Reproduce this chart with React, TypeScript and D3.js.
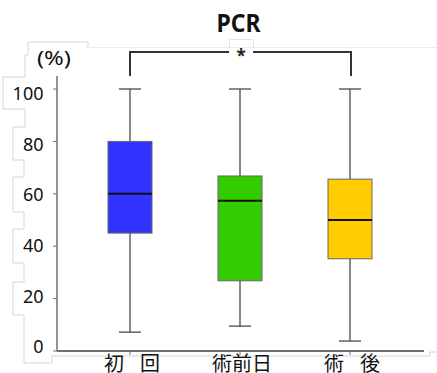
import React from "react";
import * as d3 from "d3";

// Groups and five-number summaries (%)
const categories = ["初 回", "術前日", "術 後"];
const mins = [7.2, 9.5, 3.8];
const q1s = [45, 26.8, 35.2];
const medians = [60, 57.3, 50];
const q3s = [80, 66.8, 65.6];
const maxs = [100, 100, 100];
const colors = ["#3333ff", "#33cc00", "#ffcc00"];
const yTicks = [0, 20, 40, 60, 80, 100];
const title = "PCR";
const unitLabel = "(%)";
const sigMark = "*";

const W = 437;
const H = 373;

export default function App() {
  const y = d3.scaleLinear().domain([0, 100]).range([351, 89]);
  // tick labels sit in their own column with a slightly tighter spacing
  const yLabel = d3.scaleLinear().domain([0, 100]).range([347, 93.3]);
  const x = d3
    .scaleBand<string>()
    .domain(categories)
    .range([75, 405])
    .paddingInner(0.6)
    .paddingOuter(0.3);
  const bw = x.bandwidth();
  const cx = (c: string) => (x(c) ?? 0) + bw / 2;
  const capHalf = 11;

  const axisColor = "#707070";
  const whiskerColor = "#4a4a4a";
  const faint = "#d4d4d4";

  const leftC = cx(categories[0]);
  const rightC = cx(categories[2]);
  const midC = (leftC + rightC) / 2 + 1;
  const bracketY = 52;
  const bracketBottom = 76;

  // outline of the label panel on the left
  const panel: [number, number][] = [
    [88, 48], [88, 42], [28, 42], [28, 55], [25, 55], [25, 77], [3, 77],
    [3, 109], [25, 109], [25, 127], [13, 127], [13, 160], [24, 160],
    [24, 177], [13, 177], [13, 212], [24, 212], [24, 229], [13, 229],
    [13, 263], [24, 263], [24, 282], [13, 282], [13, 315], [24, 315],
    [24, 363], [52, 363], [52, 356], [430, 356], [430, 352], [437, 352],
  ];
  const line = d3.line();

  return (
    <svg
      width={W}
      height={H}
      style={{ position: "absolute", left: 0, top: 0, background: "#fff" }}
      fontFamily="'Noto Sans', 'DejaVu Sans', sans-serif"
    >
      <path d={line(panel) ?? ""} fill="none" stroke={faint} strokeWidth={1} />
      <line x1={88} x2={437} y1={47.5} y2={47.5} stroke="#ececec" strokeWidth={1} />
      <path d="M229.5,48 V39.5 H253.5 V48" fill="none" stroke="#e4e4e4" strokeWidth={1} />

      <text
        x={238.5}
        y={32}
        textAnchor="middle"
        fontSize={25}
        fontWeight="bold"
        fill="#111"
        textLength={44}
        lengthAdjust="spacingAndGlyphs"
      >
        {title}
      </text>

      {/* significance bracket */}
      <path
        d={`M${leftC},${bracketBottom} V${bracketY} H${midC - 12} M${midC + 12},${bracketY} H${rightC + 1} V${bracketBottom}`}
        fill="none"
        stroke="#333"
        strokeWidth={2}
      />
      <text x={midC} y={62} textAnchor="middle" fontSize={17} fontWeight="bold" fill="#222">
        {sigMark}
      </text>

      <text
        x={37}
        y={65}
        fontSize={19}
        fill="#111"
        textLength={34}
        lengthAdjust="spacingAndGlyphs"
      >
        {unitLabel}
      </text>

      {/* y axis */}
      <line x1={57} x2={57} y1={76} y2={y(0)} stroke={axisColor} strokeWidth={1.5} />
      {yTicks.map((t) => (
        <g key={t}>
          <line x1={53} x2={57} y1={y(t)} y2={y(t)} stroke={axisColor} strokeWidth={1} />
          <text
            x={43.5}
            y={yLabel(t)}
            dy="0.36em"
            textAnchor="end"
            fontSize={18}
            fill="#111"
          >
            {t}
          </text>
        </g>
      ))}

      {/* x axis */}
      <line x1={57} x2={424} y1={y(0)} y2={y(0)} stroke={axisColor} strokeWidth={2} />
      {categories.map((c) => (
        <line key={c} x1={cx(c)} x2={cx(c)} y1={y(0)} y2={y(0) + 4} stroke={axisColor} strokeWidth={1} />
      ))}
      {categories.map((c) => (
        <text
          key={c}
          x={cx(c) + 2}
          y={371}
          textAnchor="middle"
          fontSize={20}
          fontFamily="'Noto Sans CJK JP', sans-serif"
          fill="#111"
          style={{ whiteSpace: "pre" }}
          {...(c.includes(" ") ? { textLength: 56, lengthAdjust: "spacing" } : {})}
        >
          {c}
        </text>
      ))}

      {/* boxes */}
      {categories.map((c, i) => {
        const x0 = x(c) ?? 0;
        const m = cx(c);
        return (
          <g key={c}>
            <line x1={m} x2={m} y1={y(maxs[i])} y2={y(q3s[i])} stroke={whiskerColor} strokeWidth={1.3} />
            <line x1={m} x2={m} y1={y(q1s[i])} y2={y(mins[i])} stroke={whiskerColor} strokeWidth={1.3} />
            <line x1={m - capHalf} x2={m + capHalf} y1={y(maxs[i])} y2={y(maxs[i])} stroke={whiskerColor} strokeWidth={1.3} />
            <line x1={m - capHalf} x2={m + capHalf} y1={y(mins[i])} y2={y(mins[i])} stroke={whiskerColor} strokeWidth={1.3} />
            <rect
              x={x0}
              y={y(q3s[i])}
              width={bw}
              height={y(q1s[i]) - y(q3s[i])}
              fill={colors[i]}
              stroke="#666"
              strokeWidth={1}
            />
            <line x1={x0} x2={x0 + bw} y1={y(medians[i])} y2={y(medians[i])} stroke="#111" strokeWidth={2} />
          </g>
        );
      })}
    </svg>
  );
}
